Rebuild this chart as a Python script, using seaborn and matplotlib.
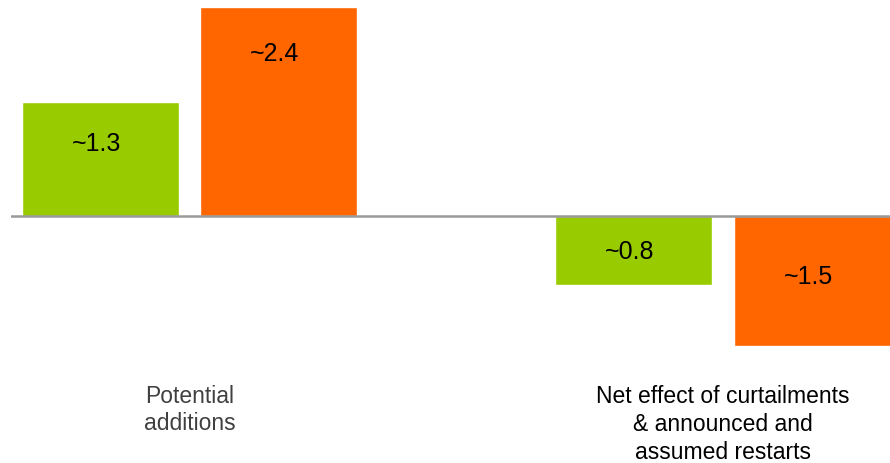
import matplotlib
matplotlib.use("Agg")
import matplotlib.pyplot as plt
import seaborn as sns
import pandas as pd

# Data
categories = ["Potential\nadditions", "Net effect of curtailments\n& announced and\nassumed restarts"]
series = ["Scenario A", "Scenario B"]
values_a = [1.3, -0.8]
values_b = [2.4, -1.5]
value_labels_a = ["~1.3", "~0.8"]
value_labels_b = ["~2.4", "~1.5"]

# Where each value label sits, as a fraction of its bar's length from zero
label_frac_a = [0.637, 0.517]
label_frac_b = [0.776, 0.467]

colors = {"Scenario A": "#99CC00", "Scenario B": "#FF6600"}
category_colors = ["#404040", "#000000"]
category_spacing = [1.21, 1.28]

df = pd.DataFrame({
    "category": categories * 2,
    "series": [series[0]] * 2 + [series[1]] * 2,
    "value": values_a + values_b,
})

sns.set_theme(style="white")
plt.rcParams["font.family"] = ["Liberation Sans", "DejaVu Sans"]

W, H = 890, 464
fig = plt.figure(figsize=(W / 100, H / 100), dpi=100)
zero_px = 216.5
px_per_unit = 87.0
ax_bottom_px = 375
ax = fig.add_axes([11 / W, (H - ax_bottom_px) / H, (W - 11) / W, ax_bottom_px / H])

sns.barplot(data=df, x="category", y="value", hue="series", order=categories,
            hue_order=series, palette=colors, width=0.669, gap=0.12,
            saturation=1, legend=False, errorbar=None, ax=ax)

ax.set_xlim(-0.335, 1.313)
ax.set_ylim(-(ax_bottom_px - zero_px) / px_per_unit, zero_px / px_per_unit)
ax.axhline(0, color="#999999", lw=1.8, zorder=3)

for s in ax.spines.values():
    s.set_visible(False)
ax.set_yticks([])
ax.set_xlabel("")
ax.set_ylabel("")
ax.tick_params(axis="x", length=0, pad=7.5, labelsize=16.5)
for lbl, c, ls in zip(ax.get_xticklabels(), category_colors, category_spacing):
    lbl.set_color(c)
    lbl.set_linespacing(ls)

# Value labels placed on each bar
offset = 0.669 / 4
for i in range(len(categories)):
    for dx, vals, labs, fr in ((-offset, values_a, value_labels_a, label_frac_a),
                               (offset, values_b, value_labels_b, label_frac_b)):
        ax.annotate(labs[i], xy=(i + dx, vals[i] * fr[i]), xytext=(-3, 0),
                    textcoords="offset points", ha="center", va="center",
                    fontsize=18, color="#000000")

fig.savefig("out.png", dpi=100, facecolor="white")
